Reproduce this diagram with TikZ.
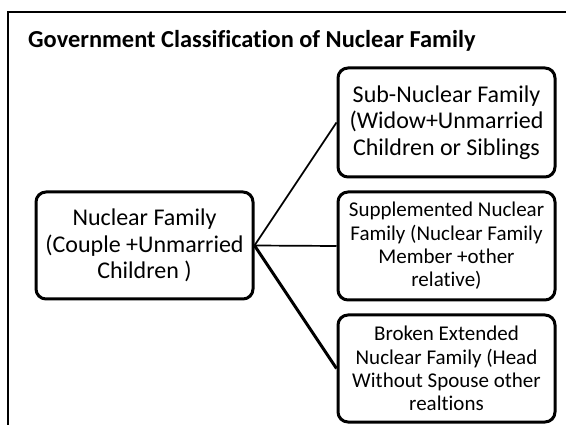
\documentclass[tikz,border=0pt]{standalone}
\usepackage{fontspec}
\setmainfont[Ligatures=NoCommon]{Carlito}
\begin{document}
\begin{tikzpicture}[x=1pt,y=-1pt,
  famBox/.style={draw, line width=3pt, rounded corners=10pt, align=center, inner sep=0pt},
  bigTxt/.style={font=\fontsize{24}{26.5}\selectfont},
  smallTxt/.style={font=\fontsize{21}{23.3}\selectfont},
  thinLink/.style={line width=1.7pt},
  thickLink/.style={line width=3pt}]
\useasboundingbox (0,0) rectangle (566,425);
\draw[line width=1.5pt] (566,12) -- (8,12) -- (8,425);
\node[anchor=west, inner xsep=0pt, font=\bfseries\fontsize{24.4}{28}\selectfont] (title) at (28,41) {Government Classification of Nuclear Family};
\node[famBox, bigTxt, minimum width=217pt, minimum height=107pt] (nuc) at (144.5,245.5) {Nuclear Family\\(Couple +Unmarried\\Children )};
\node[famBox, bigTxt, minimum width=217pt, minimum height=109pt] (sub) at (446.5,122.5) {Sub-Nuclear Family\\(Widow+Unmarried\\Children or Siblings};
\node[famBox, smallTxt, minimum width=217pt, minimum height=108pt] (sup) at (446.5,246) {Supplemented Nuclear\\Family (Nuclear Family\\Member +other\\relative)};
\node[famBox, smallTxt, minimum width=217pt, minimum height=107pt] (bro) at (446.5,368.5) {Broken Extended\\Nuclear Family (Head\\Without Spouse other\\realtions};
\draw[thinLink] (nuc.east) -- (sub.west);
\draw[thinLink] (nuc.east) -- (sup.west);
\draw[thickLink] (nuc.east) -- (bro.west);
\end{tikzpicture}
\end{document}
